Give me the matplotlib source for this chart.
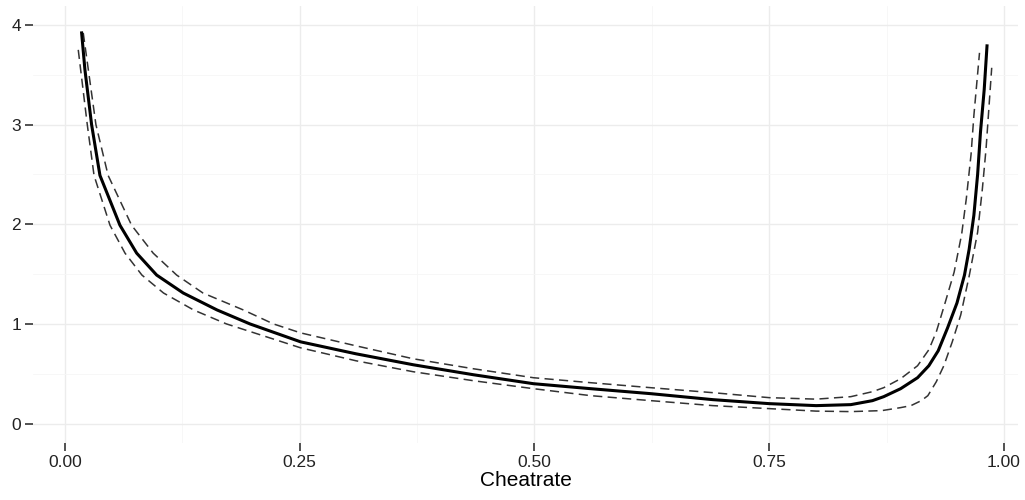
import numpy as np
import matplotlib
matplotlib.use("Agg")
import matplotlib.pyplot as plt
from matplotlib.ticker import MultipleLocator

# fitted curve and the two dashed bands
fit_x = [0.0178, 0.0213, 0.0284, 0.0373, 0.0586, 0.0764, 0.0977, 0.126, 0.162, 0.197,
         0.251, 0.310, 0.371, 0.435, 0.499, 0.560, 0.624, 0.690, 0.750, 0.800,
         0.837, 0.860, 0.872, 0.890, 0.908, 0.920, 0.930, 0.940, 0.950, 0.958,
         0.963, 0.968, 0.972, 0.975, 0.979, 0.982]
fit_y = [3.92, 3.55, 3.00, 2.49, 1.99, 1.71, 1.49, 1.31, 1.14, 1.00,
         0.82, 0.70, 0.59, 0.49, 0.40, 0.35, 0.30, 0.24, 0.20, 0.18,
         0.19, 0.23, 0.27, 0.35, 0.46, 0.58, 0.73, 0.96, 1.21, 1.49,
         1.75, 2.09, 2.50, 2.92, 3.35, 3.79]

upper_x = [0.0195, 0.033, 0.046, 0.071, 0.094, 0.119, 0.147, 0.190, 0.222, 0.251,
           0.310, 0.371, 0.435, 0.499, 0.560, 0.624, 0.690, 0.750, 0.800, 0.837,
           0.860, 0.872, 0.890, 0.908, 0.920, 0.928, 0.937, 0.947, 0.955, 0.960,
           0.965, 0.968, 0.974]
upper_y = [3.92, 3.00, 2.49, 1.99, 1.71, 1.49, 1.31, 1.14, 1.00, 0.91,
           0.78, 0.65, 0.55, 0.46, 0.41, 0.36, 0.31, 0.26, 0.245, 0.27,
           0.32, 0.36, 0.45, 0.58, 0.74, 0.92, 1.20, 1.52, 1.90, 2.26,
           2.70, 3.09, 3.72]

lower_x = [0.0142, 0.0238, 0.031, 0.048, 0.064, 0.082, 0.105, 0.137, 0.172, 0.251,
           0.310, 0.371, 0.435, 0.499, 0.560, 0.624, 0.690, 0.750, 0.800, 0.837,
           0.870, 0.890, 0.901, 0.912, 0.919, 0.928, 0.936, 0.945, 0.954, 0.963,
           0.972, 0.977, 0.981, 0.987]
lower_y = [3.75, 3.00, 2.49, 1.99, 1.71, 1.49, 1.31, 1.14, 1.00, 0.76,
           0.63, 0.52, 0.43, 0.35, 0.28, 0.23, 0.18, 0.15, 0.125, 0.12,
           0.13, 0.16, 0.18, 0.23, 0.28, 0.42, 0.58, 0.82, 1.09, 1.48,
           1.92, 2.35, 2.76, 3.57]

x_ticks = [0.0, 0.25, 0.5, 0.75, 1.0]
x_labels = ["0.00", "0.25", "0.50", "0.75", "1.00"]
y_ticks = [0, 1, 2, 3, 4]

plt.rcParams['font.family'] = ['Liberation Sans', 'DejaVu Sans']

fig = plt.figure(figsize=(10.25, 5), dpi=100)
ax = fig.add_axes([33 / 1025, 57 / 500, (1018 - 33) / 1025, (443 - 6) / 500])

ax.plot(upper_x, upper_y, color="#333333", lw=1.1, dashes=(6, 3.5), zorder=3)
ax.plot(lower_x, lower_y, color="#333333", lw=1.1, dashes=(6, 3.5), zorder=3)
ax.plot(fit_x, fit_y, color="black", lw=2.2, zorder=4)

ax.set_xlim(-0.034, 1.015)
ax.set_ylim(-0.195, 4.19)

ax.set_xticks(x_ticks)
ax.set_xticklabels(x_labels)
ax.set_yticks(y_ticks)
ax.xaxis.set_minor_locator(MultipleLocator(0.125))
ax.yaxis.set_minor_locator(MultipleLocator(0.5))

ax.grid(which="major", color="#ececec", lw=1.0)
ax.grid(which="minor", color="#f6f6f6", lw=0.6)
ax.set_axisbelow(True)
for s in ax.spines.values():
    s.set_visible(False)

ax.tick_params(which="major", length=5.5, width=1.1, color="#222222",
               labelsize=12.5, labelcolor="#222222", pad=3)
ax.tick_params(which="minor", length=0)

ax.set_xlabel("Cheatrate", fontsize=15, labelpad=1)

fig.savefig("out.png", dpi=100, facecolor="white")
